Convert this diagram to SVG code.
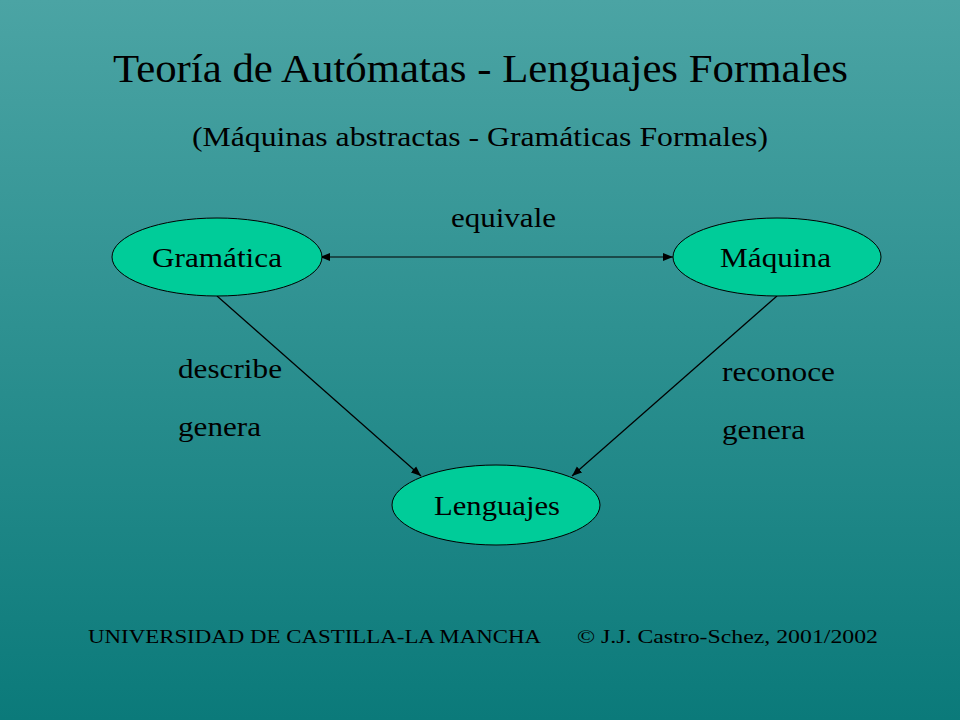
<svg xmlns="http://www.w3.org/2000/svg" width="960" height="720" viewBox="0 0 960 720">
<defs>
<linearGradient id="bg" x1="0" y1="0" x2="0" y2="1"><stop offset="0" stop-color="#4ba4a4"/><stop offset="1" stop-color="#0b7a7a"/></linearGradient>
<marker id="ah" viewBox="0 0 10 10" refX="10" refY="5" markerWidth="10" markerHeight="10" markerUnits="userSpaceOnUse" orient="auto-start-reverse"><path d="M0,1 L10,5 L0,9 Z" fill="#000"/></marker>
<style>
text{font-family:"Liberation Serif","Times New Roman",serif;fill:#000}
.n{fill:#00cc99;stroke:#000;stroke-width:1}
.l{font-size:28px}
.c{stroke:#000;stroke-width:1.2;fill:none}
</style>
</defs>
<rect width="960" height="720" fill="url(#bg)"/>
<text x="113" y="82" font-size="40" textLength="735" lengthAdjust="spacingAndGlyphs">Teoría de Autómatas - Lenguajes Formales</text>
<text x="192" y="146" font-size="28" textLength="576" lengthAdjust="spacingAndGlyphs">(Máquinas abstractas - Gramáticas Formales)</text>
<g id="connectors">
<line class="c" x1="320" y1="257" x2="673" y2="257" marker-start="url(#ah)" marker-end="url(#ah)"/>
<line class="c" x1="217" y1="296" x2="421" y2="476" marker-end="url(#ah)"/>
<line class="c" x1="777" y1="296" x2="572" y2="476" marker-end="url(#ah)"/>
<text class="l" x="451" y="227" textLength="105" lengthAdjust="spacingAndGlyphs">equivale</text>
<text class="l" x="178" y="378" textLength="104" lengthAdjust="spacingAndGlyphs">describe</text>
<text class="l" x="178" y="436" textLength="83" lengthAdjust="spacingAndGlyphs">genera</text>
<text class="l" x="722" y="381" textLength="113" lengthAdjust="spacingAndGlyphs">reconoce</text>
<text class="l" x="722" y="439" textLength="83" lengthAdjust="spacingAndGlyphs">genera</text>
</g>
<g id="gramatica"><ellipse class="n" cx="217" cy="257" rx="105" ry="39"/><text class="l" x="152" y="267" textLength="130" lengthAdjust="spacingAndGlyphs">Gramática</text></g>
<g id="maquina"><ellipse class="n" cx="777" cy="257" rx="104" ry="39"/><text class="l" x="720" y="267" textLength="111" lengthAdjust="spacingAndGlyphs">Máquina</text></g>
<g id="lenguajes"><ellipse class="n" cx="496" cy="505" rx="104" ry="40"/><text class="l" x="434" y="515" textLength="126" lengthAdjust="spacingAndGlyphs">Lenguajes</text></g>
<text x="88" y="643" font-size="19" textLength="453" lengthAdjust="spacingAndGlyphs">UNIVERSIDAD DE CASTILLA-LA MANCHA</text>
<text x="577" y="643" font-size="19" textLength="301" lengthAdjust="spacingAndGlyphs">© J.J. Castro-Schez, 2001/2002</text>
</svg>
